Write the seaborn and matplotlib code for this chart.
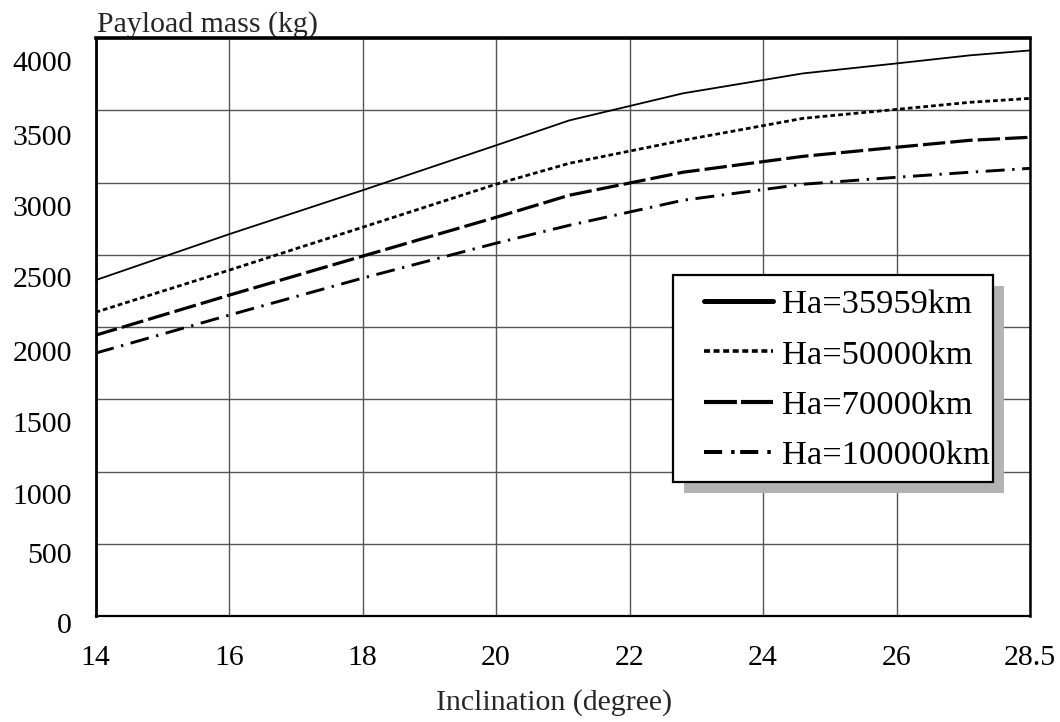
import numpy as np
import pandas as pd
import seaborn as sns
import matplotlib
matplotlib.use("Agg")
import matplotlib.pyplot as plt
from matplotlib.lines import Line2D
from matplotlib.patches import Rectangle
from matplotlib.transforms import ScaledTranslation

# ---------------- data ----------------
inclination = [14, 16, 18, 20, 21.1, 22.8, 24.6, 26, 27.1, 28]
payload_35959 = [2324, 2642, 2946, 3257, 3430, 3617, 3755, 3824, 3880, 3914]
payload_50000 = [2102, 2393, 2690, 2988, 3133, 3292, 3444, 3506, 3555, 3582]
payload_70000 = [1943, 2220, 2490, 2759, 2912, 3071, 3181, 3244, 3292, 3313]
payload_100000 = [1819, 2082, 2338, 2580, 2704, 2877, 2988, 3036, 3071, 3098]
series_names = ["Ha=35959km", "Ha=50000km", "Ha=70000km", "Ha=100000km"]
x_ticks = [14, 16, 18, 20, 22, 24, 26, 28]
x_tick_labels = ["14", "16", "18", "20", "22", "24", "26", "28.5"]
y_ticks = [0, 500, 1000, 1500, 2000, 2500, 3000, 3500, 4000]
y_tick_labels = ["0", "500", "1000", "1500", "2000", "2500", "3000", "3500", "4000"]

# ---------------- style ----------------
sns.set_theme(style="white")
plt.rcParams["font.family"] = ["Liberation Serif", "DejaVu Serif"]
plt.rcParams["mathtext.fontset"] = "stix"

fig = plt.figure(figsize=(10.6, 7.22), dpi=100)
ax = fig.add_axes([95.5 / 1060, 1 - 616 / 722, 934.5 / 1060, 578 / 722])

frames = []
for name, vals in zip(series_names,
                      [payload_35959, payload_50000, payload_70000, payload_100000]):
    frames.append(pd.DataFrame({"inclination": inclination,
                                "payload": vals,
                                "series": name}))
df = pd.concat(frames, ignore_index=True)

palette = {n: "black" for n in series_names}
dashes = {
    "Ha=35959km": "",
    "Ha=50000km": (1.7, 1.1),
    "Ha=70000km": (7.0, 1.6),
    "Ha=100000km": (6.5, 2.6, 0.8, 2.6),
}
sizes = {
    "Ha=35959km": 1.3,
    "Ha=50000km": 2.0,
    "Ha=70000km": 2.3,
    "Ha=100000km": 2.1,
}
sns.lineplot(data=df, x="inclination", y="payload", hue="series",
             style="series", size="series", palette=palette, dashes=dashes,
             sizes=sizes, legend=False, sort=False, ax=ax, zorder=3)

ax.set_xlim(14, 28)
ax.set_ylim(0, 4000)
ax.set_xticks(x_ticks)
ax.set_xticklabels(x_tick_labels)
ax.set_yticks(y_ticks)
ax.set_yticklabels(y_tick_labels)
ax.grid(True, color="#555555", linewidth=1.0, zorder=1)
ax.set_axisbelow(True)
ax.tick_params(axis="both", length=0, labelsize=21.5, colors="black")
ax.tick_params(axis="x", pad=21)
ax.tick_params(axis="y", pad=17)

for side, lw in {"left": 2.0, "right": 1.8, "top": 2.6, "bottom": 1.6}.items():
    ax.spines[side].set_visible(True)
    ax.spines[side].set_color("black")
    ax.spines[side].set_linewidth(lw)
    ax.spines[side].set_zorder(4)

# y tick labels sit slightly below their gridlines in the reference
label_drop_px = [7, 9, 23, 23, 24, 22.5, 24, 24.5, 23]
for lab, d in zip(ax.get_yticklabels(), label_drop_px):
    lab.set_transform(lab.get_transform() +
                      ScaledTranslation(0, -d / 100, fig.dpi_scale_trans))

ax.set_xlabel("Inclination (degree)", fontsize=21.5, labelpad=16)
ax.xaxis.set_label_coords(0.4906, -0.127)
ax.set_ylabel("")
ax.text(0.002, 1.0, "Payload mass (kg)", transform=ax.transAxes,
        ha="left", va="bottom", fontsize=21.5)

# ---------------- legend ----------------
bx0, by0 = (673 - 95.5) / 934.5, (616 - 482) / 578
bw, bh = (993 - 673) / 934.5, (482 - 275) / 578
ax.add_patch(Rectangle((bx0 + 11 / 934.5, by0 - 11 / 578), bw, bh,
                       transform=ax.transAxes, facecolor="#b3b3b3",
                       edgecolor="none", zorder=5))
ax.add_patch(Rectangle((bx0, by0), bw, bh, transform=ax.transAxes,
                       facecolor="white", edgecolor="black", linewidth=1.6,
                       zorder=6))

handles = [
    Line2D([], [], color="black", lw=3.6, linestyle="-"),
    Line2D([], [], color="black", lw=2.6, linestyle=(0, (1.65, 1.0))),
    Line2D([], [], color="black", lw=3.0, linestyle=(0, (7.9, 0.97))),
    Line2D([], [], color="black", lw=2.9, linestyle=(0, (4.5, 2.24, 0.86, 1.38))),
]
leg = ax.legend(handles, series_names, loc="upper left",
                bbox_to_anchor=((704 - 95.5) / 934.5, (616 - 289) / 578),
                frameon=False, fontsize=24.8, handlelength=2.0,
                handletextpad=0.26, labelspacing=0.56, borderpad=0,
                borderaxespad=0)
leg.set_zorder(7)
for t in leg.get_texts():
    t.set_color("black")

fig.savefig("out.png", dpi=100)
